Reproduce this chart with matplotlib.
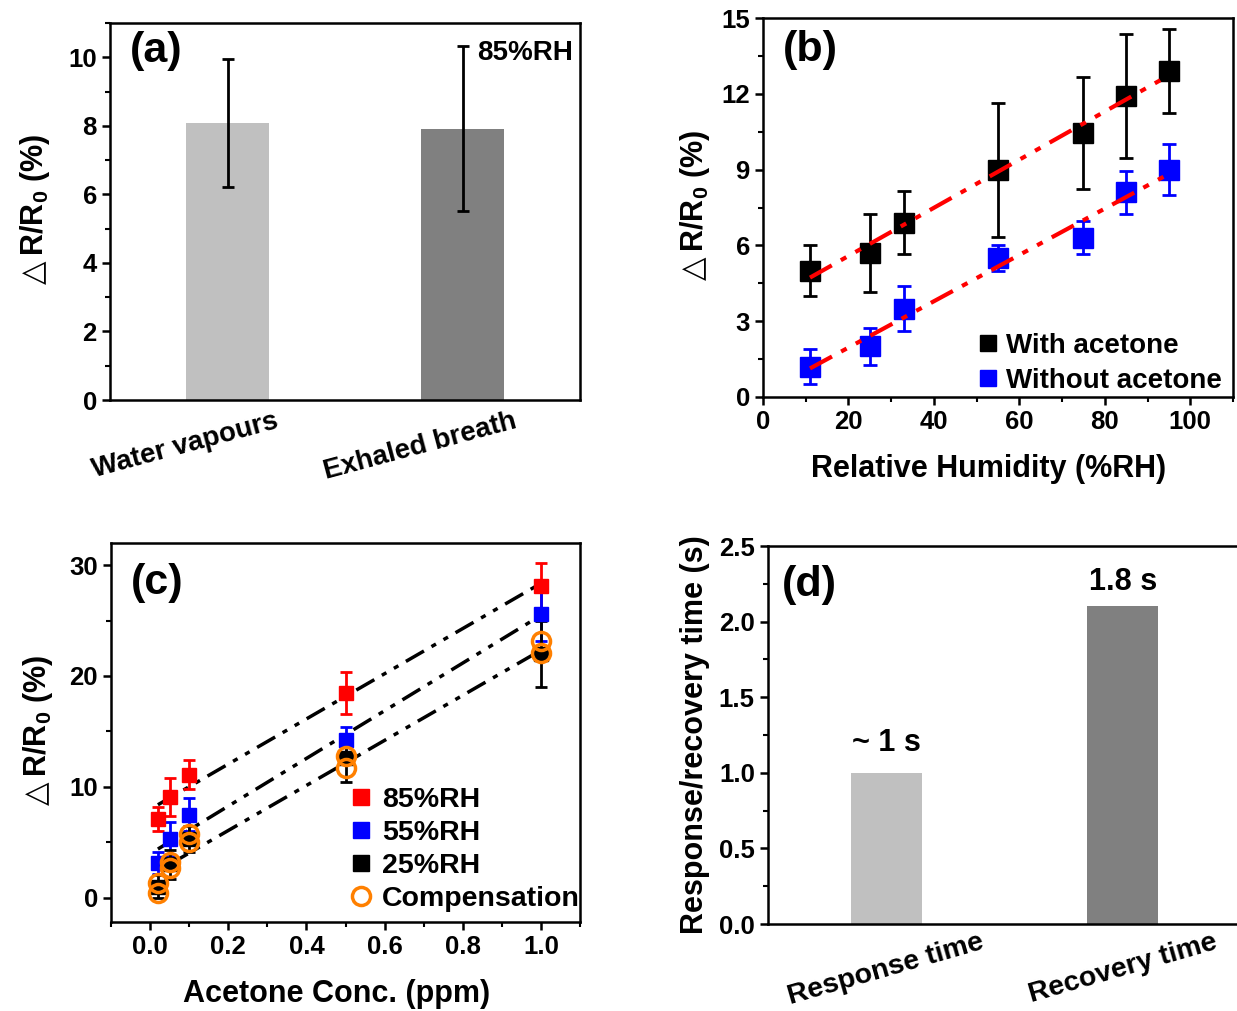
import numpy as np
import matplotlib
matplotlib.use('Agg')
import matplotlib.pyplot as plt
from matplotlib.ticker import MultipleLocator
from matplotlib.transforms import ScaledTranslation

plt.rcParams['font.family'] = ['Liberation Sans', 'DejaVu Sans']
plt.rcParams['font.weight'] = 'bold'
plt.rcParams['axes.labelweight'] = 'bold'
plt.rcParams['mathtext.fontset'] = 'custom'
plt.rcParams['mathtext.rm'] = 'Liberation Sans:bold'
plt.rcParams['mathtext.it'] = 'Liberation Sans:bold'
plt.rcParams['mathtext.bf'] = 'Liberation Sans:bold'
plt.rcParams['mathtext.sf'] = 'DejaVu Sans'

# (a) water vapour vs exhaled breath at 85%RH
a_names = ['Water vapours', 'Exhaled breath']
a_vals = [8.08, 7.92]
a_err = [1.86, 2.4]

# (b) response vs relative humidity
rh = [11, 25, 33, 55, 75, 85, 95]
with_ac = [5.0, 5.7, 6.9, 9.0, 10.45, 11.9, 12.9]
with_ac_err = [1.0, 1.55, 1.25, 2.65, 2.2, 2.45, 1.65]
without_ac = [1.2, 2.0, 3.5, 5.5, 6.3, 8.1, 9.0]
without_ac_err = [0.7, 0.75, 0.9, 0.5, 0.65, 0.85, 1.0]

# (c) response vs acetone concentration
conc = [0.02, 0.05, 0.1, 0.5, 1.0]
rh85 = [7.1, 9.1, 11.1, 18.5, 28.1]
rh85_err = [1.1, 1.7, 1.3, 1.9, 2.1]
rh55 = [3.1, 5.3, 7.5, 14.2, 25.6]
rh55_err = [1.0, 1.5, 1.5, 1.2, 2.4]
rh25 = [1.0, 3.0, 5.3, 12.6, 22.0]
rh25_err = [1.0, 1.3, 1.2, 2.2, 3.0]
comp_a = [1.35, 3.2, 5.7, 12.8, 23.2]
comp_b = [0.45, 2.7, 5.0, 11.7, 22.1]

# (d) response / recovery time
d_names = ['Response time', 'Recovery time']
d_vals = [1.0, 2.1]
d_text = ['~ 1 s', '1.8 s']
d_text_y = [1.2, 2.26]

W, H = 1237, 1011
fig = plt.figure(figsize=(W / 100, H / 100), dpi=100)

ylab = r'$\mathsf{\triangle}$R/R$_0$ (%)'


def pos(left, top, right, bottom):
    return [left / W, 1 - bottom / H, (right - left) / W, (bottom - top) / H]


def style(ax):
    for s in ax.spines.values():
        s.set_linewidth(1.8)
    ax.tick_params(which='major', direction='out', length=6, width=1.8, labelsize=18.5)
    ax.tick_params(which='minor', direction='out', length=3.5, width=1.5)


dashdotdot = (0, (6, 2.5, 1.5, 2.5, 1.5, 2.5))
grays = ['#c0c0c0', '#808080']

# ---- (a)
ax = fig.add_axes(pos(110, 23, 580, 400))
ax.bar([0, 1], a_vals, width=0.35, color=grays)
ax.errorbar([0, 1], a_vals, yerr=a_err, fmt='none', ecolor='black', elinewidth=2, capsize=4, capthick=2)
ax.set_xlim(-0.5, 1.5)
ax.set_ylim(0, 11)
ax.yaxis.set_major_locator(MultipleLocator(2))
ax.yaxis.set_minor_locator(MultipleLocator(1))
style(ax)
ax.set_xticks([0, 1])
ax.set_xticklabels(a_names, rotation=15, ha='center', fontsize=20)
ax.tick_params(axis='x', length=0, pad=6)
for lab in ax.get_xticklabels():
    lab.set_transform(lab.get_transform() + ScaledTranslation(-0.42, 0, fig.dpi_scale_trans))
ax.set_ylabel(ylab, fontsize=22)
ax.yaxis.set_label_coords(-0.123, 0.5)
ax.text(0.043, 0.925, '(a)', transform=ax.transAxes, fontsize=31, va='center', ha='left')
ax.text(0.985, 0.92, '85%RH', transform=ax.transAxes, fontsize=20, va='center', ha='right')

# ---- (b)
ax = fig.add_axes(pos(763, 18, 1233, 397))
for y, color in [(with_ac, 'black'), (without_ac, 'blue')]:
    p = np.polyfit(rh, y, 1)
    xs = np.array([rh[0], rh[-1]])
    ax.plot(xs, np.polyval(p, xs), color='red', lw=3, linestyle=dashdotdot, zorder=3)
ax.errorbar(rh, with_ac, yerr=with_ac_err, fmt='s', color='black', ms=14, elinewidth=2,
            capsize=5, capthick=2, zorder=2)
ax.errorbar(rh, without_ac, yerr=without_ac_err, fmt='s', color='blue', ms=14, elinewidth=2,
            capsize=5, capthick=2, zorder=2)
ax.set_xlim(0, 110)
ax.set_ylim(0, 15)
ax.xaxis.set_major_locator(MultipleLocator(20))
ax.xaxis.set_minor_locator(MultipleLocator(10))
ax.yaxis.set_major_locator(MultipleLocator(3))
ax.yaxis.set_minor_locator(MultipleLocator(1.5))
style(ax)
ax.set_xlabel('Relative Humidity (%RH)', fontsize=22)
ax.xaxis.set_label_coords(0.48, -0.15)
ax.set_ylabel(ylab, fontsize=22)
ax.yaxis.set_label_coords(-0.108, 0.5)
ax.text(0.043, 0.915, '(b)', transform=ax.transAxes, fontsize=31, va='center', ha='left')
h = [plt.Line2D([], [], marker='s', ls='none', color=c, ms=12) for c in ['black', 'blue']]
ax.legend(h, ['With acetone', 'Without acetone'], loc='lower right', bbox_to_anchor=(1.012, -0.035),
          frameon=False, fontsize=20, handletextpad=0.2, labelspacing=0.32, handlelength=0.9,
          borderaxespad=0.2)

# ---- (c)
ax = fig.add_axes(pos(111, 543, 580, 922))
for y, x0 in [(rh85, 0), (rh55, 0), (rh25, 1)]:
    p = np.polyfit(conc, y, 1)
    xs = np.array([conc[x0], conc[-1]])
    ax.plot(xs, np.polyval(p, xs), color='black', lw=2.5, linestyle=dashdotdot, zorder=1)
for y, e, color in [(rh85, rh85_err, 'red'), (rh55, rh55_err, 'blue'), (rh25, rh25_err, 'black')]:
    ax.errorbar(conc, y, yerr=e, fmt='s', color=color, ms=10, elinewidth=2, capsize=4,
                capthick=2, zorder=2)
ax.plot(conc, comp_a, 'o', mfc='none', mec='#ff8000', mew=2.5, ms=13, zorder=3)
ax.plot(conc, comp_b, 'o', mfc='none', mec='#ff8000', mew=2.5, ms=13, zorder=3)
ax.set_xlim(-0.1, 1.1)
ax.set_ylim(-2.2, 32)
ax.xaxis.set_major_locator(MultipleLocator(0.2))
ax.xaxis.set_minor_locator(MultipleLocator(0.1))
ax.yaxis.set_major_locator(MultipleLocator(10))
ax.yaxis.set_minor_locator(MultipleLocator(5))
style(ax)
ax.xaxis.set_major_formatter(plt.FuncFormatter(lambda v, _: f'{v:.1f}'))
ax.set_xlabel('Acetone Conc. (ppm)', fontsize=22)
ax.xaxis.set_label_coords(0.48, -0.15)
ax.set_ylabel(ylab, fontsize=22)
ax.yaxis.set_label_coords(-0.119, 0.5)
ax.text(0.043, 0.895, '(c)', transform=ax.transAxes, fontsize=31, va='center', ha='left')
h = [plt.Line2D([], [], marker='s', ls='none', color=c, ms=12) for c in ['red', 'blue', 'black']]
h.append(plt.Line2D([], [], marker='o', ls='none', mfc='none', mec='#ff8000', mew=2.5, ms=13))
ax.legend(h, ['85%RH', '55%RH', '25%RH', 'Compensation'], loc='lower right',
          bbox_to_anchor=(1.03, -0.01), frameon=False, fontsize=20.5, handletextpad=0.3,
          labelspacing=0.24, handlelength=0.9, borderaxespad=0.1)

# ---- (d)
ax = fig.add_axes(pos(768, 546, 1241, 924))
ax.bar([0, 1], d_vals, width=0.3, color=grays)
for i, t in enumerate(d_text):
    ax.text(i, d_text_y[i], t, ha='center', va='center', fontsize=22)
ax.set_xlim(-0.5, 1.5)
ax.set_ylim(0, 2.5)
ax.yaxis.set_major_locator(MultipleLocator(0.5))
ax.yaxis.set_minor_locator(MultipleLocator(0.25))
style(ax)
ax.yaxis.set_major_formatter(plt.FuncFormatter(lambda v, _: f'{v:.1f}'))
ax.set_xticks([0, 1])
ax.set_xticklabels(d_names, rotation=16, ha='center', fontsize=20.5)
ax.tick_params(axis='x', length=0, pad=4)
ax.set_ylabel('Response/recovery time (s)', fontsize=22)
ax.yaxis.set_label_coords(-0.123, 0.5)
ax.text(0.03, 0.897, '(d)', transform=ax.transAxes, fontsize=31, va='center', ha='left')

fig.savefig('out.png', dpi=100)
